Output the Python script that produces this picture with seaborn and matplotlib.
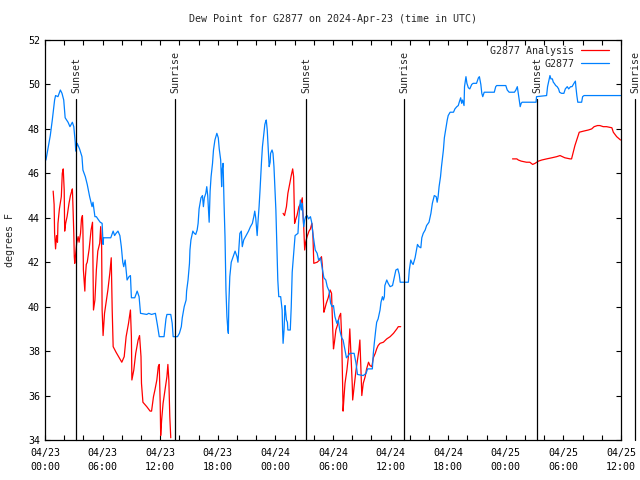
import seaborn as sns
import pandas as pd
import numpy as np
import matplotlib.pyplot as plt
from matplotlib.lines import Line2D

# hours since 2024-04-23 00:00 UTC
obs_hours = [0.1, 0.55, 0.76, 1.0, 1.1, 1.35, 1.6, 1.77, 1.95, 2.1, 2.4, 2.6, 2.85, 3.0, 3.15, 3.2, 3.35, 3.6,
             3.85, 3.95, 4.2, 4.4, 4.65, 4.9, 5.0, 5.2, 5.35, 5.5, 5.75, 5.95, 6.05, 6.1, 6.3, 6.85, 7.1, 7.25,
             7.4, 7.6, 7.8, 7.95, 8.1, 8.2, 8.35, 8.55, 8.75, 8.9, 9.0, 9.35, 9.6, 9.8, 9.95, 10.6, 10.8, 11.1,
             11.5, 11.7, 11.9, 12.4, 12.6, 12.7, 13.1, 13.25, 13.35, 13.8, 14.0, 14.2, 14.3, 14.5, 14.7, 14.75,
             14.9, 15.05, 15.1, 15.2, 15.4, 15.55, 15.7, 15.85, 15.95, 16.05, 16.25, 16.4, 16.5, 16.6, 16.75,
             16.85, 16.95, 17.1, 17.2, 17.3, 17.45, 17.55, 17.7, 17.9, 18.05, 18.15, 18.3, 18.4, 18.45, 18.55,
             18.65, 18.75, 18.85, 18.95, 19.05, 19.1, 19.15, 19.25, 19.4, 19.6, 19.8, 20.0, 20.1, 20.3, 20.45,
             20.55, 20.7, 20.95, 21.2, 21.4, 21.6, 21.75, 21.85, 21.95, 22.1, 22.2, 22.3, 22.4, 22.55, 22.65,
             22.8, 22.9, 23.0, 23.05, 23.15, 23.25, 23.35, 23.45, 23.5, 23.65, 23.75, 23.85, 23.9, 24.05, 24.15,
             24.25, 24.35, 24.55, 24.7, 24.75, 24.8, 24.9, 25.0, 25.05, 25.15, 25.25, 25.3, 25.55, 25.65, 25.75,
             25.9, 26.05, 26.35, 26.45, 26.6, 26.7, 26.8, 26.95, 27.05, 27.15, 27.3, 27.45, 27.65, 27.8, 27.9,
             28.0, 28.15, 28.35, 28.5, 28.7, 28.85, 29.05, 29.25, 29.4, 29.6, 29.75, 29.9, 30.05, 30.2, 30.4,
             30.55, 30.7, 30.9, 31.05, 31.25, 31.4, 31.6, 31.75, 32.2, 32.4, 32.55, 33.15, 33.45, 33.6, 34.1,
             34.2, 34.3, 34.45, 34.55, 34.7, 34.9, 35.0, 35.15, 35.25, 35.35, 35.4, 35.6, 35.75, 35.95, 36.2,
             36.4, 36.55, 36.75, 36.9, 37.0, 37.85, 37.95, 38.1, 38.25, 38.35, 38.55, 38.7, 38.8, 38.95, 39.15,
             39.25, 39.4, 39.6, 39.75, 40.0, 40.2, 40.35, 40.55, 40.75, 40.85, 40.95, 41.05, 41.2, 41.3, 41.5,
             41.6, 41.75, 41.9, 42.0, 42.2, 42.55, 42.7, 42.9, 43.05, 43.15, 43.3, 43.4, 43.5, 43.65, 43.7,
             43.85, 43.95, 44.1, 44.25, 44.45, 44.6, 44.95, 45.15, 45.25, 45.4, 45.5, 45.6, 45.75, 46.8, 46.95,
             47.05, 48.0, 48.15, 48.35, 48.9, 49.05, 49.2, 49.3, 49.4, 49.5, 49.6, 49.7, 51.15, 51.2, 52.25,
             52.35, 52.5, 52.6, 52.7, 52.85, 52.95, 53.05, 53.2, 53.35, 53.5, 53.6, 53.8, 54.05, 54.2, 54.4,
             54.55, 54.75, 54.9, 55.1, 55.25, 55.3, 55.4, 55.5, 55.9, 56.0, 56.15, 59.95]
obs_dewpt = [46.6, 47.7, 48.4, 49.3, 49.5, 49.45, 49.75, 49.6, 49.3, 48.5, 48.3, 48.1, 48.3, 48.1, 47.4, 47.0, 47.35, 47.1,
             46.75, 46.15, 45.85, 45.5, 44.95, 44.5, 44.7, 44.05, 44.05, 43.95, 43.8, 43.75, 42.8, 43.1, 43.1, 43.1, 43.4, 43.2,
             43.3, 43.4, 43.2, 42.7, 42.0, 41.8, 42.1, 41.2, 41.35, 41.4, 40.4, 40.4, 40.7, 40.45, 39.7, 39.65, 39.7, 39.65,
             39.7, 39.2, 38.65, 38.65, 39.45, 39.65, 39.65, 39.25, 38.65, 38.65, 38.8, 39.1, 39.5, 40.0, 40.3, 40.7,
             41.2, 41.95, 42.55, 43.0, 43.4, 43.3, 43.25, 43.45, 43.75, 44.4, 44.9, 45.0, 44.5, 44.9, 45.1,
             45.4, 45.0, 43.8, 45.2, 45.85, 46.45, 47.05, 47.5, 47.8, 47.6, 47.1, 46.6, 45.4, 46.15, 46.45,
             44.65, 43.15, 40.75, 39.55, 38.95, 38.8, 40.15, 41.35, 42.0, 42.25, 42.5, 42.25, 42.0, 43.3, 43.4,
             42.7, 43.0, 43.2, 43.4, 43.6, 43.75, 44.05, 44.3, 44.0, 43.2, 43.9, 44.5, 45.25, 46.5, 47.2,
             47.8, 48.2, 48.35, 48.4, 47.95, 47.1, 46.3, 46.5, 46.9, 47.05, 46.9, 46.3, 45.8, 44.35, 42.8,
             41.2, 40.45, 40.45, 39.85, 38.95, 38.35, 38.95, 40.05, 39.85, 39.4, 39.3, 38.95, 38.95, 40.0, 41.55,
             42.4, 43.2, 43.3, 44.05, 44.8, 44.35, 44.65, 43.6, 43.9, 44.05, 44.1, 43.95, 44.05, 43.75, 43.3,
             43.0, 42.55, 42.4, 42.1, 42.2, 41.8, 41.3, 41.2, 40.9, 40.7, 40.15, 40.0, 40.05, 39.55, 39.25,
             39.4, 38.95, 38.6, 38.5, 38.05, 37.7, 37.8, 37.9, 37.9, 37.45, 36.95, 36.9, 37.0, 37.2, 37.2,
             37.9, 38.35, 38.95, 39.3, 39.45, 39.85, 40.2, 40.45, 40.3, 40.45, 40.95, 41.2, 41.05, 40.9, 40.95,
             41.35, 41.65, 41.7, 41.45, 41.1, 41.1, 41.65, 42.1, 41.95, 41.9, 42.2, 42.55, 42.8, 42.7, 42.65,
             43.1, 43.3, 43.45, 43.65, 43.8, 44.2, 44.65, 45.0, 44.95, 44.7, 44.95, 45.4, 45.85, 46.3, 47.05,
             47.6, 48.0, 48.4, 48.6, 48.75, 48.75, 48.9, 49.0, 49.05, 49.2, 49.4, 49.15, 49.3, 49.05, 49.9,
             50.35, 50.05, 49.85, 49.8, 50.0, 50.05, 50.05, 50.3, 50.35, 50.0, 49.6, 49.45, 49.65, 49.65, 49.9,
             49.95, 49.95, 49.75, 49.65, 49.65, 49.75, 49.9, 49.6, 49.3, 49.0, 49.15, 49.2, 49.2, 49.45, 49.5,
             49.9, 50.2, 50.4, 50.25, 50.25, 50.1, 50.05, 49.95, 49.9, 49.8, 49.65, 49.6, 49.6, 49.8, 49.9,
             49.8, 49.9, 49.9, 50.05, 50.15, 49.9, 49.5, 49.2, 49.2, 49.45, 49.5, 49.5]

# analysis, three separate runs
ana1_hours = [0.85, 0.95, 1.0, 1.1, 1.2, 1.3, 1.35, 1.5, 1.7, 1.8, 1.9, 2.0, 2.05, 2.15, 2.3, 2.4, 2.5, 2.65, 2.75,
              2.85, 2.9, 3.0, 3.05, 3.1, 3.2, 3.3, 3.45, 3.55, 3.7, 3.8, 3.9, 3.95, 4.0, 4.15, 4.2, 4.3, 4.4, 4.6,
              4.8, 4.95, 5.05, 5.2, 5.35, 5.5, 5.7, 5.8, 5.9, 5.95, 6.05, 6.2, 6.4, 6.55, 6.75, 6.9, 7.0, 7.1,
              7.4, 7.8, 8.0, 8.25, 8.45, 8.7, 8.9, 9.0, 9.05, 9.25, 9.45, 9.7, 9.85, 10.0, 10.05, 10.2, 10.6,
              10.95, 11.1, 11.3, 11.45, 11.65, 11.8, 11.9, 12.0, 12.05, 12.15, 12.3, 12.5, 12.7, 12.8, 12.9, 13.0, 13.1]
ana1_dewpt = [45.2, 44.6, 43.3, 42.6, 43.2, 42.9, 43.75, 44.4, 44.95, 46.0, 46.2, 45.25, 43.4, 43.75, 44.05, 44.35, 44.65, 45.0, 45.15,
              45.3, 44.7, 43.3, 42.25, 41.95, 42.4, 42.85, 43.15, 42.9, 43.3, 43.95, 44.1, 43.45, 41.65, 40.7, 41.3, 41.9, 42.0, 42.6,
              43.45, 43.8, 39.85, 40.3, 41.65, 42.5, 42.85, 43.6, 42.7, 39.85, 38.7, 39.7, 40.3, 40.75, 41.5, 42.2, 39.85, 38.2,
              37.95, 37.65, 37.5, 37.75, 38.65, 39.25, 39.85, 38.65, 36.7, 37.15, 37.9, 38.5, 38.7, 37.75, 36.55, 35.7, 35.5,
              35.3, 35.3, 35.95, 36.25, 36.7, 37.3, 37.4, 35.65, 34.2, 34.9, 35.65, 36.25, 36.85, 37.4, 36.7, 35.05, 34.1]
ana2_hours = [24.8, 24.95, 25.15, 25.3, 25.5, 25.65, 25.8, 25.9, 26.0, 26.1, 26.25, 26.45, 26.65, 26.8, 26.85, 26.95,
              27.05, 27.15, 27.3, 27.5, 27.65, 27.8, 27.9, 28.0, 28.35, 28.6, 28.8, 28.9, 28.95, 29.05, 29.15, 29.3,
              29.5, 29.7, 29.85, 29.95, 30.05, 30.15, 30.3, 30.45, 30.65, 30.8, 30.9, 31.0, 31.05, 31.15, 31.25,
              31.45, 31.6, 31.75, 31.85, 32.0, 32.05, 32.2, 32.4, 32.55, 32.7, 32.8, 32.9, 33.0, 33.15, 33.35,
              33.5, 33.7, 33.85, 34.05, 34.2, 34.4, 34.55, 34.7, 34.9, 35.25, 35.6, 35.95, 36.3, 36.65, 36.8, 37.05]
ana2_dewpt = [44.2, 44.1, 44.5, 45.1, 45.55, 45.9, 46.2, 45.85, 43.75, 43.9, 44.1, 44.5, 44.65, 44.9, 44.35, 43.6,
              42.55, 42.9, 43.15, 43.4, 43.5, 43.75, 43.3, 41.95, 42.0, 42.1, 42.25, 41.8, 40.9, 39.75, 39.9, 40.15,
              40.4, 40.75, 40.6, 39.25, 38.1, 38.4, 38.95, 39.15, 39.55, 39.7, 38.65, 36.55, 35.3, 35.95, 36.55,
              37.15, 37.75, 39.0, 38.05, 36.55, 35.8, 36.4, 37.15, 37.6, 38.05, 38.5, 37.3, 36.0, 36.55, 36.85,
              37.2, 37.5, 37.35, 37.3, 37.7, 37.9, 38.1, 38.25, 38.35, 38.4, 38.55, 38.65, 38.8, 39.0, 39.1, 39.1]
ana3_hours = [48.7, 49.15, 49.3, 49.6, 50.15, 50.5, 50.8, 51.05, 51.4, 51.75, 52.25, 52.8, 53.3, 53.65, 54.15, 54.7,
              54.85, 55.2, 55.65, 56.1, 56.6, 56.95, 57.2, 57.55, 57.8, 58.15, 58.5, 59.05, 59.2, 59.55, 59.95]
ana3_dewpt = [46.65, 46.65, 46.6, 46.55, 46.5, 46.5, 46.4, 46.45, 46.55, 46.6, 46.65, 46.7, 46.75, 46.8, 46.7, 46.65,
              46.65, 47.25, 47.85, 47.9, 47.95, 48.0, 48.1, 48.15, 48.15, 48.1, 48.1, 48.05, 47.85, 47.65, 47.5]

sun_times = ["2024-04-23 03:14", "2024-04-23 13:32", "2024-04-24 03:12",
             "2024-04-24 13:24", "2024-04-25 03:15", "2024-04-25 13:28"]
sun_labels = ["Sunset", "Sunrise", "Sunset", "Sunrise", "Sunset", "Sunrise"]

tick_labels = ["04/23\n00:00", "04/23\n06:00", "04/23\n12:00", "04/23\n18:00", "04/24\n00:00", "04/24\n06:00",
               "04/24\n12:00", "04/24\n18:00", "04/25\n00:00", "04/25\n06:00", "04/25\n12:00"]

base = pd.Timestamp("2024-04-23 00:00")
def to_time(h):
    return base + pd.to_timedelta(np.array(h), unit="h")

obs = pd.DataFrame({"time": to_time(obs_hours), "dewpt": obs_dewpt})
ana = pd.concat([
    pd.DataFrame({"time": to_time(hh), "dewpt": vv, "run": i})
    for i, (hh, vv) in enumerate([(ana1_hours, ana1_dewpt), (ana2_hours, ana2_dewpt), (ana3_hours, ana3_dewpt)])
])

sns.set_style("ticks", {"xtick.direction": "in", "ytick.direction": "in",
                        "xtick.top": True, "ytick.right": True,
                        "axes.edgecolor": "black"})
plt.rcParams["font.family"] = ["DejaVu Sans Mono"]
plt.rcParams["font.size"] = 7.2

red = "#ff0000"
blue = "#0080ff"

fig = plt.figure(figsize=(6.4, 4.8), dpi=100)
ax = fig.add_axes([45 / 640, 40 / 480, 576 / 640, 400 / 480])

sns.lineplot(data=ana, x="time", y="dewpt", units="run", estimator=None, sort=False,
             color=red, lw=0.9, ax=ax)
sns.lineplot(data=obs, x="time", y="dewpt", estimator=None, sort=False,
             color=blue, lw=0.9, ax=ax)

# sunrise / sunset markers
for t, lab in zip(sun_times, sun_labels):
    tt = pd.Timestamp(t)
    ax.plot([tt, tt], [34, 49.35], color="black", lw=0.9, clip_on=False)
    ax.text(tt, 49.62, lab, rotation=90, ha="center", va="bottom", fontsize=7.2, clip_on=False)

ax.set_xlim(base, base + pd.Timedelta(hours=60))
ax.set_ylim(34, 52)
ax.set_xticks(to_time(np.arange(0, 61, 6)), tick_labels)
ax.set_xticks(to_time(np.arange(0, 61, 2)), minor=True)
ax.set_yticks(np.arange(34, 53, 2))
ax.tick_params(which="both", direction="in", length=3.6, width=0.8, top=True, right=True, colors="black")
ax.tick_params(axis="x", pad=6)
ax.tick_params(axis="y", pad=3.6)
for lbl in ax.get_xticklabels():
    lbl.set_linespacing(1.5)
for s in ax.spines.values():
    s.set_linewidth(0.9)

ax.set_xlabel("")
ax.set_ylabel("degrees F", labelpad=9)
ax.set_title("Dew Point for G2877 on 2024-Apr-23 (time in UTC)", fontsize=7.2, pad=13)

handles = [Line2D([], [], color=red, lw=0.9), Line2D([], [], color=blue, lw=0.9)]
ax.legend(handles, ["G2877 Analysis", "G2877"], loc="upper right", bbox_to_anchor=(0.99, 1.0),
          frameon=False, markerfirst=False, handlelength=2.8, handletextpad=0.7,
          labelspacing=0.3, borderaxespad=0.2, fontsize=7.2)

plt.savefig("out.png", dpi=100)
